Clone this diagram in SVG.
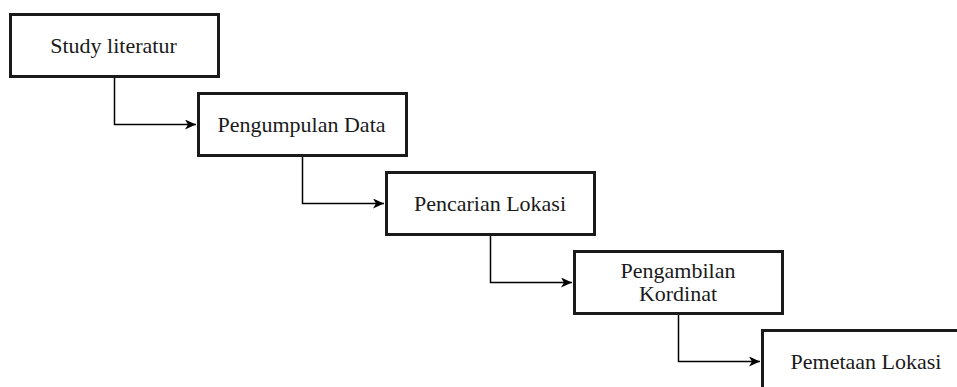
<svg xmlns="http://www.w3.org/2000/svg" width="957" height="387" viewBox="0 0 957 387">
<style>
.box{fill:#fff;stroke:#1a1a1a;stroke-width:3}
.lbl{font-family:"Liberation Serif","Times New Roman",Times,serif;font-size:22px;fill:#1a1a1a;text-anchor:middle}
.conn{fill:none;stroke:#000;stroke-width:1.5}
</style>
<defs>
<marker id="arr" markerWidth="12" markerHeight="10" refX="11" refY="5" orient="auto" markerUnits="userSpaceOnUse">
<path d="M0,0 L11,5 L0,10 L3,5 Z" fill="#000"/>
</marker>
</defs>
<rect width="957" height="387" fill="#fff"/>
<g id="connectors">
<path class="conn" d="M114.5 78 V124.5 H196" marker-end="url(#arr)"/>
<path class="conn" d="M302.5 157 V203.5 H384" marker-end="url(#arr)"/>
<path class="conn" d="M490.5 236 V282.5 H572" marker-end="url(#arr)"/>
<path class="conn" d="M678.5 315 V361.5 H760" marker-end="url(#arr)"/>
</g>
<g id="n1">
<rect class="box" x="10.5" y="14.5" width="208" height="62"/>
<text class="lbl" font-family="Liberation Serif, serif" x="113.5" y="53">Study literatur</text>
</g>
<g id="n2">
<rect class="box" x="198.5" y="93.5" width="208" height="62"/>
<text class="lbl" font-family="Liberation Serif, serif" x="301.5" y="132">Pengumpulan Data</text>
</g>
<g id="n3">
<rect class="box" x="386.5" y="172.5" width="208" height="62"/>
<text class="lbl" font-family="Liberation Serif, serif" x="490" y="211">Pencarian Lokasi</text>
</g>
<g id="n4">
<rect class="box" x="574.5" y="251.5" width="208" height="62"/>
<text class="lbl" font-family="Liberation Serif, serif" x="678" y="278">Pengambilan</text>
<text class="lbl" font-family="Liberation Serif, serif" x="678" y="301">Kordinat</text>
</g>
<g id="n5">
<rect class="box" x="762.5" y="330.5" width="208" height="62"/>
<text class="lbl" font-family="Liberation Serif, serif" x="866" y="369">Pemetaan Lokasi</text>
</g>
</svg>
